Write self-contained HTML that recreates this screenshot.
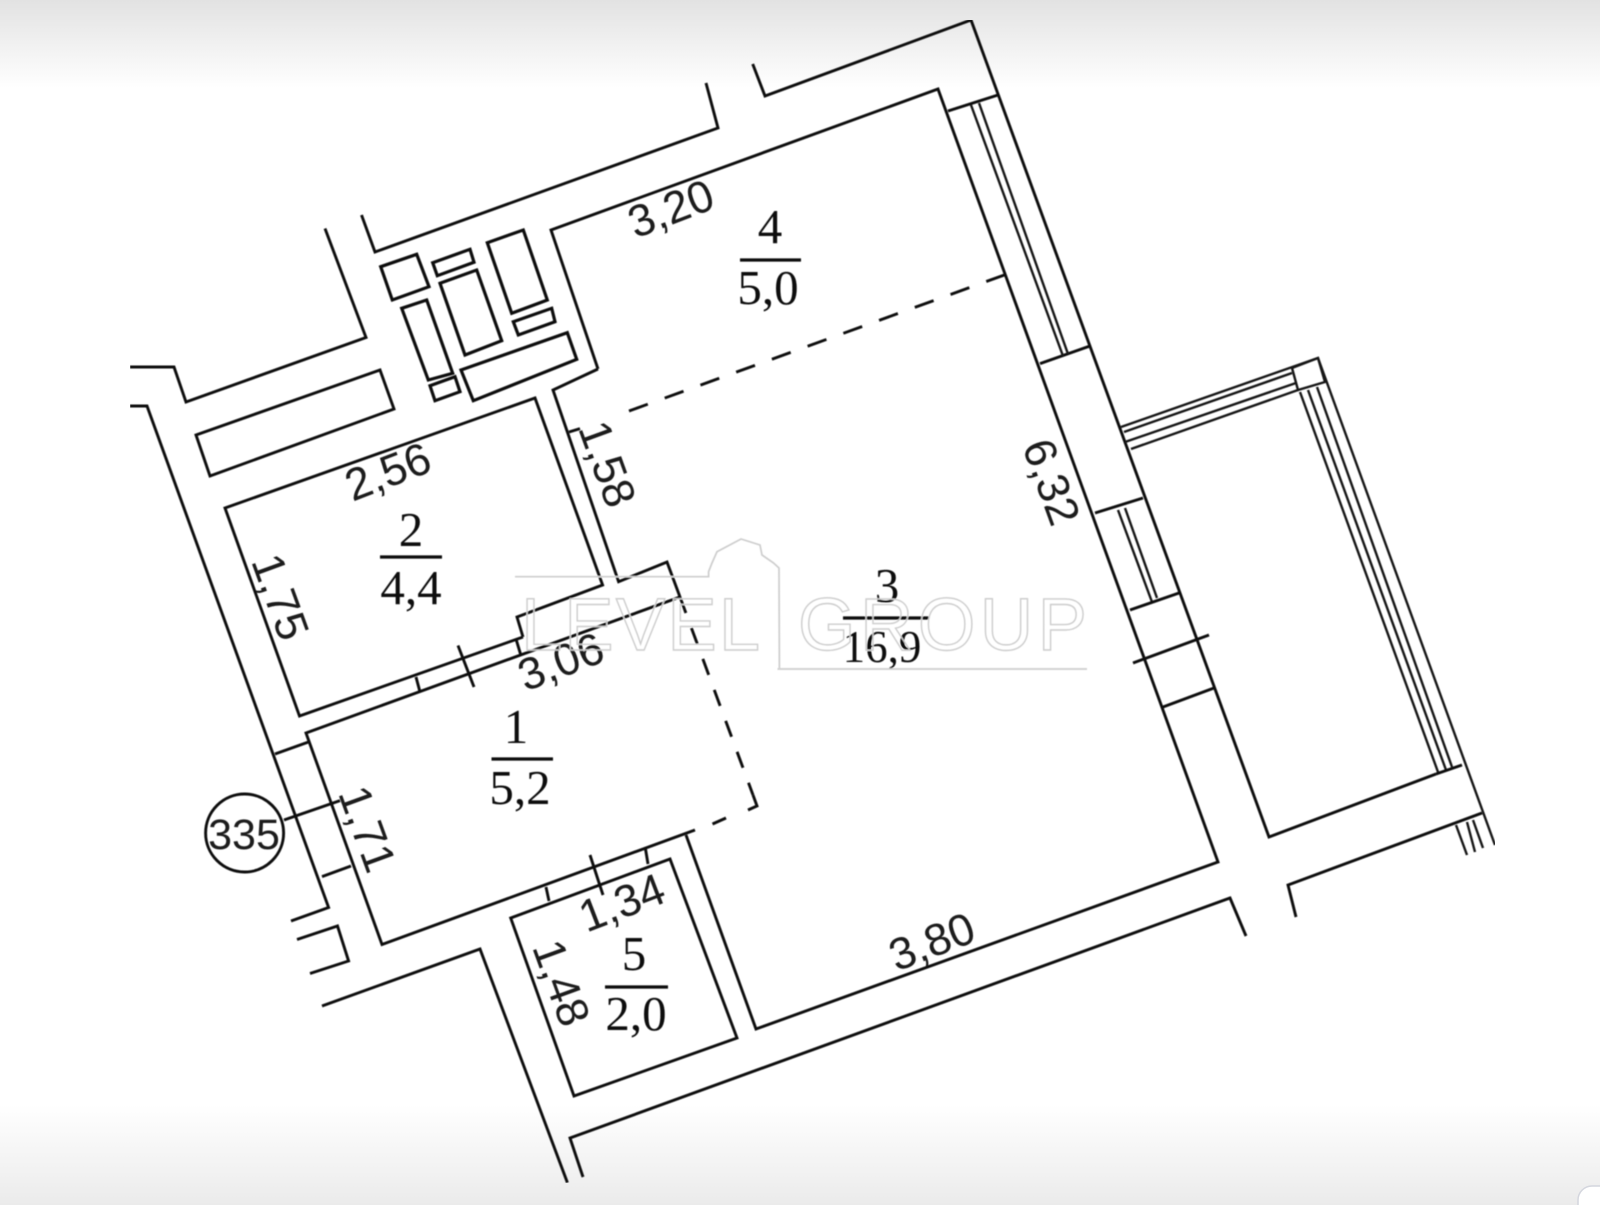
<!DOCTYPE html>
<html><head><meta charset="utf-8"><style>
html,body{margin:0;padding:0;background:#fff;width:1600px;height:1205px;overflow:hidden}
svg{display:block;position:absolute;left:0;top:0}
.l{fill:none;stroke:#111;stroke-width:2.9;stroke-linejoin:miter}
.t{fill:none;stroke:#161616;stroke-width:2.4}
.b{fill:none;stroke:#111;stroke-width:3.2}
.d{font-family:"Liberation Sans",sans-serif;font-size:45px;fill:#1a1a1a;text-anchor:middle}
.r{font-family:"Liberation Serif",serif;font-size:49px;fill:#111;text-anchor:middle}
.w{font-family:"Liberation Sans",sans-serif;font-size:74px;fill:none;stroke:#cdcdcd;stroke-width:1.4}
</style></head><body>
<svg width="1600" height="1205" viewBox="0 0 1600 1205" xmlns="http://www.w3.org/2000/svg">
<defs>
<linearGradient id="gt" x1="0" y1="0" x2="0" y2="1"><stop offset="0" stop-color="#e2e2e2"/><stop offset="1" stop-color="#fff"/></linearGradient>
<linearGradient id="gb" x1="0" y1="0" x2="0" y2="1"><stop offset="0" stop-color="#fff"/><stop offset="1" stop-color="#ebebeb"/></linearGradient>
<filter id="s" x="0" y="0" width="100%" height="100%"><feGaussianBlur stdDeviation="0.55"/></filter>
</defs>
<rect width="1600" height="1205" fill="#fff"/>
<rect width="1600" height="88" fill="url(#gt)"/>
<rect y="1105" width="1600" height="100" fill="url(#gb)"/>
<rect x="1578" y="1186" width="60" height="60" rx="14" fill="#fff" stroke="#d4d6de" stroke-width="1.5"/>
<g filter="url(#s)">
<!-- outer walls -->
<polyline class="l" points="361.5,215 375,252 718,128 706,83"/>
<polyline class="l" points="752.7,64 765,96 971,20 1269,837 1436,774"/>
<polyline class="l" points="130,367 174,367 186,402 366,337.5 325,228.5"/>
<polyline class="l" points="130,406 147,406 328.6,907.5 291,921"/>
<polyline class="l" points="297,939.5 337.5,926 348.6,961 310,973.5"/>
<polyline class="l" points="322,1006 480,949 567.4,1182.6"/>
<polyline class="l" points="583,1177 570,1138 1230,898 1246,936"/>
<polyline class="l" points="1296,917 1288,885 1482,813"/>
<!-- room 3/4 -->
<polyline class="l" points="598,369 551,230 938,89 1218,862 756,1029 686,835"/>
<polyline class="l" points="598,369 553,390 618.6,581.7 667,562 680,597"/>
<!-- room 2 -->
<polyline class="l" points="523,637 517,617 602.6,585 535,398 225,508 299.5,716 523,637"/>
<line class="l" x1="516" y1="639" x2="520.5" y2="654"/>
<line class="l" x1="416" y1="677" x2="420" y2="692"/>
<line class="l" x1="458" y1="645.5" x2="474" y2="687"/>
<!-- room 1 -->
<polyline class="l" points="680,597 306,733 382,944.5 695,830"/>
<line class="l" x1="275" y1="754" x2="308.5" y2="742"/>
<line class="l" x1="322" y1="876.6" x2="351" y2="866"/>
<line class="l" x1="284" y1="820" x2="340" y2="800.6"/>
<!-- room 5 -->
<polygon class="l" points="510.7,918 670,859 737,1038 574,1096"/>
<line class="l" x1="546" y1="887" x2="549" y2="901"/>
<line class="l" x1="645.5" y1="849" x2="648" y2="864"/>
<line class="l" x1="590" y1="855" x2="603" y2="895"/>
<!-- dashed -->
<line class="l" x1="629" y1="411" x2="1007" y2="274" stroke-dasharray="20 18"/>
<line class="l" x1="569" y1="432" x2="580" y2="428.6"/>
<line class="l" x1="680" y1="597" x2="753" y2="795" stroke-dasharray="17 16"/>
<polyline class="l" points="753,795 757,806 748,810"/>
<line class="l" x1="726" y1="818" x2="712.5" y2="824"/>
<!-- windows -->
<line class="l" x1="948" y1="111" x2="998" y2="95"/>
<line class="l" x1="1040" y1="363.6" x2="1090" y2="346"/>
<line class="t" x1="971" y1="105" x2="1063" y2="356"/>
<line class="t" x1="979" y1="103" x2="1068" y2="354"/>
<line class="l" x1="1095" y1="513" x2="1143" y2="498"/>
<line class="t" x1="1118" y1="510" x2="1152" y2="602"/>
<line class="t" x1="1125" y1="508" x2="1157" y2="598"/>
<line class="l" x1="1130" y1="610" x2="1179" y2="593"/>
<line class="l" x1="1133" y1="663" x2="1209" y2="635"/>
<line class="l" x1="1163" y1="707" x2="1214" y2="688"/>
<!-- balcony -->
<line class="t" x1="1121" y1="427" x2="1318" y2="358"/>
<line class="t" x1="1124" y1="432" x2="1292" y2="373"/>
<line class="t" x1="1125" y1="442" x2="1296" y2="383"/>
<line class="t" x1="1131" y1="449" x2="1298" y2="390"/>
<polygon class="t" points="1292,368 1318,358 1325,382 1298,390"/>
<line class="t" x1="1318" y1="358" x2="1495" y2="845"/>
<line class="t" x1="1300" y1="392" x2="1438" y2="772"/>
<line class="t" x1="1308" y1="390" x2="1446" y2="770"/>
<line class="t" x1="1317" y1="387" x2="1452" y2="767"/>
<line class="l" x1="1436" y1="774" x2="1462" y2="765"/>
<line class="t" x1="1456" y1="825" x2="1467" y2="855"/>
<line class="t" x1="1467" y1="822" x2="1475" y2="852"/>
<line class="t" x1="1473" y1="820" x2="1483" y2="848"/>
<!-- shaft -->
<polygon class="b" points="380.7,266.7 416.7,254.3 429,286.7 392.3,300"/>
<polygon class="b" points="432.7,262.7 470,249.3 474,262.3 437.3,275.7"/>
<polygon class="b" points="487.3,242.7 523.3,230 547.3,300 511.7,313.3"/>
<polygon class="b" points="440,283.3 476.7,270 501.7,340.7 465,355"/>
<polygon class="b" points="401.7,308.3 426.7,300 452.7,373.3 428.3,380"/>
<polygon class="b" points="513.3,321.7 551.7,308.3 555,321.7 518.3,335"/>
<polygon class="b" points="461,370 567.3,332.7 576.7,359.3 473.3,400.7"/>
<polygon class="b" points="430,385.7 455,376.7 460,391.7 435,400.7"/>
<polygon class="l" points="196,435 380,370 394,409 210,476"/>
<!-- circle -->
<circle class="l" cx="244.6" cy="833" r="39"/>
<text class="d" x="244" y="849" style="font-size:43px">335</text>
<!-- room labels -->
<g class="r">
<text x="770" y="243">4</text><text x="768" y="304">5,0</text>
<text x="411" y="546">2</text><text x="411" y="604">4,4</text>
<text x="887" y="602">3</text><text x="882" y="662" style="font-size:45px">16,9</text>
<text x="516" y="743">1</text><text x="520" y="804">5,2</text>
<text x="634" y="970">5</text><text x="636" y="1030">2,0</text>
</g>
<g class="b">
<line x1="740" y1="260" x2="801" y2="260"/>
<line x1="380" y1="557" x2="442" y2="557"/>
<line x1="843" y1="618" x2="929" y2="618"/>
<line x1="491.5" y1="759" x2="553" y2="759"/>
<line x1="605" y1="987" x2="668" y2="987"/>
</g>
<!-- dims -->
<g class="d">
<text transform="translate(671,209) rotate(-21)" y="15">3,20</text>
<text transform="translate(388,472) rotate(-21)" y="15">2,56</text>
<text transform="translate(561,662) rotate(-21)" y="15">3,06</text>
<text transform="translate(622,903) rotate(-21)" y="15">1,34</text>
<text transform="translate(932,942) rotate(-21)" y="15">3,80</text>
<text transform="translate(607,464) rotate(70)" y="15">1,58</text>
<text transform="translate(280,597) rotate(70)" y="15">1,75</text>
<text transform="translate(1051,482) rotate(70)" y="15">6,32</text>
<text transform="translate(367,829) rotate(70)" y="15">1,71</text>
<text transform="translate(561,983) rotate(70)" y="15">1,48</text>
</g>
<!-- watermark -->
<polyline fill="none" stroke="#cdcdcd" stroke-width="1.7" points="515,576.7 708.6,576.7 708.6,571.7 712,563 717,551.7 741,539 760,545 762,555 773.6,563 779,568 779.4,668"/>
<line x1="777.5" y1="669" x2="1087" y2="669" stroke="#cdcdcd" stroke-width="1.7"/>
<text class="w" x="521" y="650" textLength="239">LEVEL</text>
<text class="w" x="798" y="650" textLength="289">GROUP</text>
</g>
</svg>
</body></html>
